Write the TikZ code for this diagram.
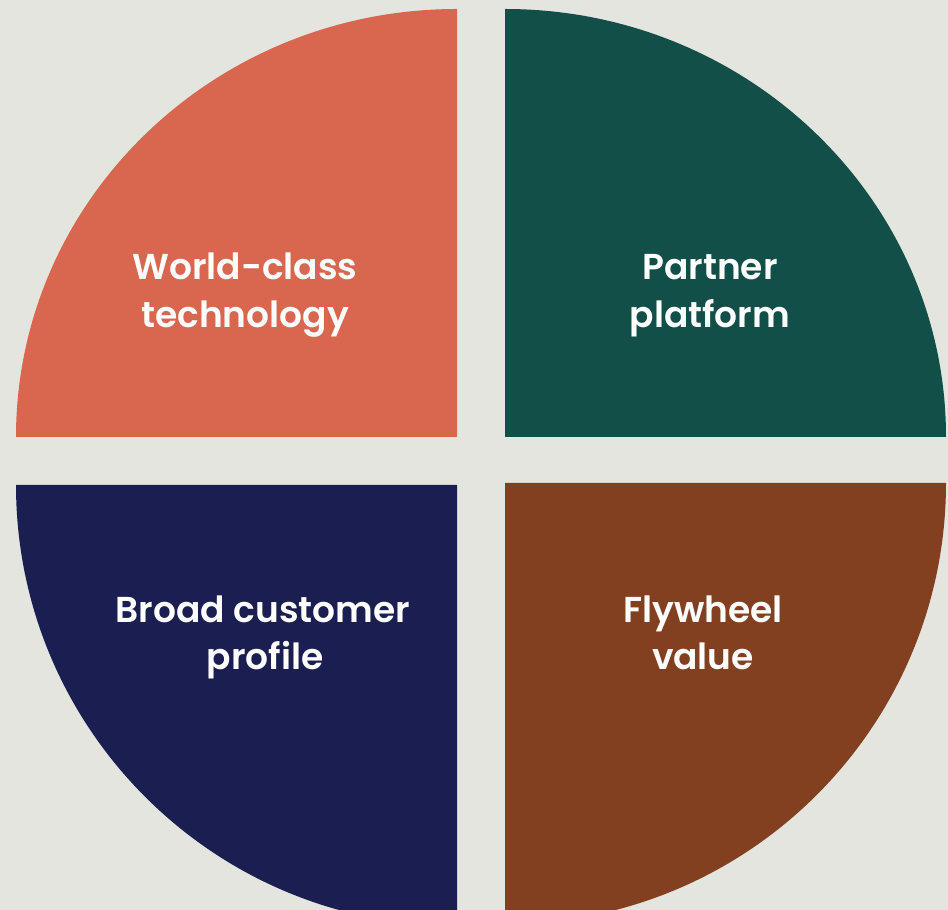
\documentclass[tikz,border=0pt]{standalone}
\usepackage{fontspec}
\setmainfont{Poppins}[BoldFont={Poppins SemiBold}]
\definecolor{bgc}{HTML}{E4E5DE}
\definecolor{qorange}{HTML}{D9664E}
\definecolor{qgreen}{HTML}{134F49}
\definecolor{qnavy}{HTML}{1B1E51}
\definecolor{qbrown}{HTML}{834020}
\tikzset{
  lbl/.style={text=white, font=\fontsize{36}{44}\selectfont\bfseries, anchor=base, inner sep=0pt},
}
\begin{document}
\begin{tikzpicture}[x=1pt,y=1pt]
\useasboundingbox (0,0) rectangle (948,910);
\fill[bgc] (0,0) rectangle (948,910);
\fill[qorange] (457,473) -- (16,473) arc[start angle=180, end angle=90, x radius=441, y radius=428] -- cycle;
\fill[qgreen] (505,473) -- (946,473) arc[start angle=0, end angle=90, x radius=441, y radius=428] -- cycle;
\begin{scope}
\clip (0,0) rectangle (948,910);
\fill[qnavy] (457,425) -- (16,425) arc[start angle=180, end angle=270, radius=441] -- cycle;
\fill[qbrown] (505,427) -- (946,427) arc[start angle=0, end angle=-90, radius=441] -- cycle;
\end{scope}
\node[lbl] (tla) at (245,630) {World-class};
\node[lbl] (tlb) at (245,582) {technology};
\node[lbl] (tra) at (710,630) {Partner};
\node[lbl] (trb) at (710,582) {platform};
\node[lbl] (bla) at (263,287) {Broad customer};
\node[lbl] (blb) at (265,240) {profile};
\node[lbl] (bra) at (703,287) {Flywheel};
\node[lbl] (brb) at (703,240) {value};
\end{tikzpicture}
\end{document}
